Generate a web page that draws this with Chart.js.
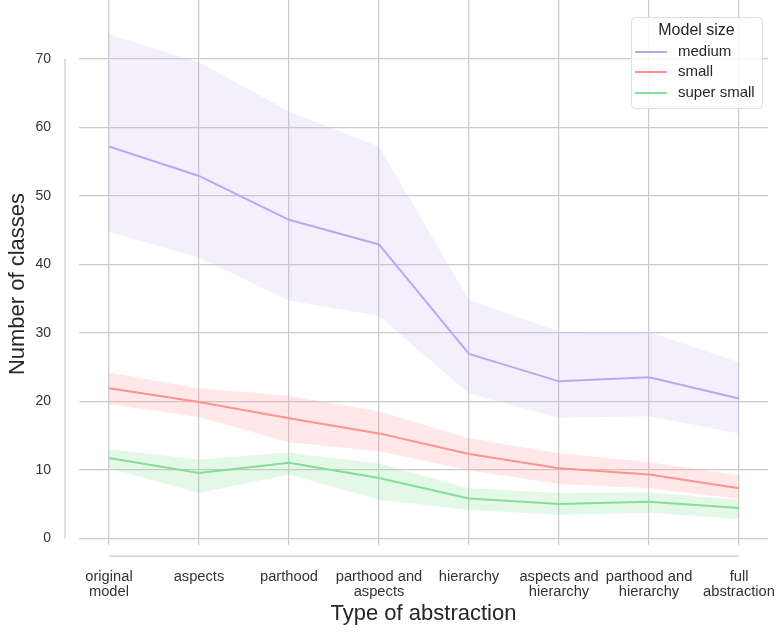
<!DOCTYPE html>
<html>
<head>
<meta charset="utf-8">
<script src="https://cdn.jsdelivr.net/npm/chart.js@4.4.1/dist/chart.umd.min.js"></script>
<style>
  html, body { margin: 0; padding: 0; background: #fff; }
  #wrap { width: 780px; height: 632px; }
</style>
</head>
<body>
<div id="wrap"><canvas id="chart" width="780" height="632"></canvas></div>
<script>
const categories = [
  "original model", "aspects", "parthood", "parthood and aspects",
  "hierarchy", "aspects and hierarchy", "parthood and hierarchy", "full abstraction"
];
const tickLabels = [
  ["original", "model"], "aspects", "parthood", ["parthood and", "aspects"],
  "hierarchy", ["aspects and", "hierarchy"], ["parthood and", "hierarchy"], ["full", "abstraction"]
];
const yTicks = [0, 10, 20, 30, 40, 50, 60, 70];

const mediumMean = [57.2, 52.9, 46.5, 42.9, 26.9, 22.9, 23.5, 20.4];
const mediumHigh = [73.6, 69.5, 62.3, 57.2, 34.8, 30.2, 30.1, 25.7];
const mediumLow = [44.7, 41.0, 34.7, 32.5, 21.1, 17.6, 17.8, 15.3];

const smallMean = [21.9, 19.9, 17.5, 15.3, 12.3, 10.2, 9.3, 7.3];
const smallHigh = [24.2, 21.9, 20.8, 18.5, 14.6, 12.4, 11.1, 9.2];
const smallLow = [19.6, 17.7, 14.0, 12.7, 9.9, 7.9, 7.3, 5.7];

const superSmallMean = [11.7, 9.5, 11.0, 8.8, 5.8, 5.0, 5.3, 4.4];
const superSmallHigh = [13.0, 11.5, 12.5, 10.9, 7.3, 6.6, 6.7, 5.6];
const superSmallLow = [10.2, 6.6, 9.3, 5.6, 4.1, 3.4, 3.7, 2.8];

const series = [
  { name: "medium", mean: mediumMean, high: mediumHigh, low: mediumLow, color: "#bba6ec", band: "rgba(196,176,240,0.2)" },
  { name: "small", mean: smallMean, high: smallHigh, low: smallLow, color: "#ff928e", band: "rgba(255,150,146,0.22)" },
  { name: "super small", mean: superSmallMean, high: superSmallHigh, low: superSmallLow, color: "#85de95", band: "rgba(134,222,150,0.22)" },
];

Chart.defaults.font.family = "'Liberation Sans', Arial, sans-serif";

function toPoints(values) {
  return values.map((v, i) => ({ x: i, y: v }));
}

const datasets = [];
series.forEach((s) => {
  datasets.push({
    label: s.name + " band",
    data: toPoints(s.high),
    borderWidth: 0,
    pointRadius: 0,
    backgroundColor: s.band,
    fill: "+1",
  });
  datasets.push({
    label: s.name + " low",
    data: toPoints(s.low),
    borderWidth: 0,
    pointRadius: 0,
    fill: false,
  });
  datasets.push({
    label: s.name,
    data: toPoints(s.mean),
    borderColor: s.color,
    borderWidth: 2,
    pointRadius: 0,
    fill: false,
    isMean: true,
  });
});

const decorPlugin = {
  id: "decor",
  afterDraw(chart) {
    const { ctx, scales: { x, y } } = chart;
    ctx.save();

    // detached spines (seaborn despine offset/trim)
    ctx.strokeStyle = "#cccccc";
    ctx.lineWidth = 1.25;
    ctx.beginPath();
    ctx.moveTo(65, y.getPixelForValue(yTicks[0]));
    ctx.lineTo(65, y.getPixelForValue(yTicks[yTicks.length - 1]));
    ctx.moveTo(x.getPixelForValue(0), 556);
    ctx.lineTo(x.getPixelForValue(categories.length - 1), 556);
    ctx.stroke();

    // y title
    ctx.fillStyle = "#262626";
    ctx.font = "22px 'Liberation Sans', Arial, sans-serif";
    ctx.translate(24, 284);
    ctx.rotate(-Math.PI / 2);
    ctx.textAlign = "center";
    ctx.textBaseline = "alphabetic";
    ctx.fillText("Number of classes", 0, 0);
    ctx.setTransform(1, 0, 0, 1, 0, 0);

    // legend
    const bx = 631, by = 17, bw = 131, bh = 91;
    ctx.fillStyle = "rgba(255,255,255,0.85)";
    ctx.strokeStyle = "#dddddd";
    ctx.lineWidth = 1;
    ctx.beginPath();
    ctx.roundRect(bx + 0.5, by + 0.5, bw, bh, 4);
    ctx.fill();
    ctx.stroke();

    ctx.fillStyle = "#262626";
    ctx.font = "16px 'Liberation Sans', Arial, sans-serif";
    ctx.textAlign = "center";
    ctx.textBaseline = "middle";
    ctx.fillText("Model size", bx + bw / 2, 31);

    ctx.font = "15px 'Liberation Sans', Arial, sans-serif";
    ctx.textAlign = "left";
    const rows = [52, 72, 93];
    chart.data.datasets.filter((d) => d.isMean).forEach((d, i) => {
      ctx.strokeStyle = d.borderColor;
      ctx.lineWidth = 2;
      ctx.beginPath();
      ctx.moveTo(635, rows[i]);
      ctx.lineTo(667, rows[i]);
      ctx.stroke();
      ctx.fillStyle = "#262626";
      ctx.fillText(d.label, 678, rows[i]);
    });

    ctx.restore();
  },
};

new Chart(document.getElementById("chart").getContext("2d"), {
  type: "line",
  data: { datasets },
  plugins: [decorPlugin],
  options: {
    responsive: false,
    animation: false,
    layout: { padding: { top: 0, right: 12, bottom: 0, left: 0 } },
    plugins: {
      legend: { display: false },
      tooltip: { enabled: false },
    },
    elements: { line: { tension: 0 } },
    scales: {
      x: {
        type: "linear",
        min: -0.333,
        max: 7.322,
        afterBuildTicks: (scale) => {
          scale.ticks = categories.map((c, i) => ({ value: i }));
        },
        afterFit: (scale) => {
          scale.height = 87;
          scale.paddingLeft = 0;
          scale.paddingRight = 0;
        },
        grid: { color: "#cccccc", lineWidth: 1.25, drawTicks: false },
        border: { display: false },
        ticks: {
          autoSkip: false,
          maxRotation: 0,
          minRotation: 0,
          padding: 24,
          color: "#333333",
          font: { size: 14.7, lineHeight: 1.05 },
          callback: (value) => tickLabels[value],
        },
        title: {
          display: true,
          text: "Type of abstraction",
          color: "#262626",
          font: { size: 22, lineHeight: 1.2 },
          padding: { top: 0, bottom: 5 },
        },
      },
      y: {
        type: "linear",
        min: -1.0,
        max: 78.6,
        afterBuildTicks: (scale) => {
          scale.ticks = yTicks.map((v) => ({ value: v }));
        },
        afterFit: (scale) => {
          scale.width = 79;
          scale.paddingTop = 0;
          scale.paddingBottom = 0;
        },
        grid: { color: "#cccccc", lineWidth: 1.25, drawTicks: false },
        border: { display: false },
        ticks: {
          padding: 28,
          color: "#333333",
          font: { size: 14 },
        },
      },
    },
  },
});
</script>
</body>
</html>
